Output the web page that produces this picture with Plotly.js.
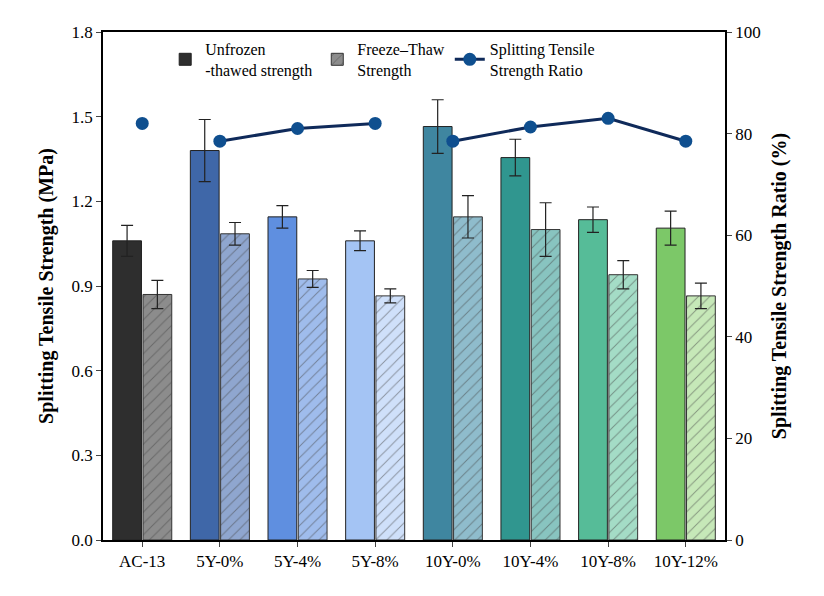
<!DOCTYPE html><html><head><script src="https://cdn.plot.ly/plotly-3.0.1.min.js"></script></head><body style="margin:0"><div id="c" style="width:824px;height:596px"></div><script>
const cats=['AC-13','5Y-0%','5Y-4%','5Y-8%','10Y-0%','10Y-4%','10Y-8%','10Y-12%'];
const unfrozen=[1.06,1.38,1.145,1.06,1.465,1.355,1.135,1.105];
const unfrozenErr=[0.055,0.11,0.04,0.035,0.095,0.065,0.045,0.06];
const freeze=[0.87,1.085,0.925,0.865,1.145,1.10,0.94,0.865];
const freezeErr=[0.05,0.04,0.03,0.025,0.075,0.095,0.05,0.045];
const ratio=[82,78.5,81,82,78.5,81.3,83,78.5];
const cDark=['#2e2e2e','#3f67a8','#5f8fe0','#a4c4f4','#3f86a0','#30968f','#56bc98','#7cc868'];
const cLight=['#8c8c8c','#8fa6cf','#9fbcec','#cfe0fa','#8fbccc','#88c4c0','#a4dcc6','#c6e8b8'];
const font={family:'Liberation Serif',color:'#000'};
const traces=[
{type:'bar',x:cats,y:unfrozen,name:'Unfrozen<br>-thawed strength',marker:{color:cDark,line:{color:'#222',width:1}},error_y:{type:'data',array:unfrozenErr,color:'#222',thickness:1.2,width:6}},
{type:'bar',x:cats,y:freeze,name:'Freeze–Thaw<br>Strength',marker:{color:cLight,line:{color:'#333',width:1},pattern:{shape:'/',fillmode:'overlay',fgcolor:'#333',size:8,solidity:0.12}},error_y:{type:'data',array:freezeErr,color:'#222',thickness:1.2,width:6}},
{type:'scatter',mode:'lines+markers',x:cats,y:[ratio[0],null,null,null,null,null,null,null],yaxis:'y2',showlegend:false,marker:{color:'#0f4f8f',size:13},line:{color:'#0f2a5a',width:3}},
{type:'scatter',mode:'lines+markers',x:cats,y:[null,ratio[1],ratio[2],ratio[3],null,null,null,null],yaxis:'y2',showlegend:false,marker:{color:'#0f4f8f',size:13},line:{color:'#0f2a5a',width:3}},
{type:'scatter',mode:'lines+markers',x:cats,y:[null,null,null,null,ratio[4],ratio[5],ratio[6],ratio[7]],yaxis:'y2',name:'Splitting Tensile<br>Strength Ratio',marker:{color:'#0f4f8f',size:13},line:{color:'#0f2a5a',width:3}}
];
Plotly.newPlot('c',traces,{width:824,height:596,margin:{l:103,r:99,t:32,b:56},font:Object.assign({size:16},font),
barmode:'group',bargap:0.22,bargroupgap:0.05,plot_bgcolor:'#fff',
xaxis:{showline:true,mirror:true,linecolor:'#000',linewidth:1.5,ticks:'outside',tickfont:{size:17}},
yaxis:{range:[0,1.8],dtick:0.3,tickformat:'.1f',showline:true,linecolor:'#000',linewidth:1.5,ticks:'outside',showgrid:false,zeroline:false,tickfont:{size:17},title:{text:'<b>Splitting Tensile Strength (MPa)</b>',font:{size:20}}},
yaxis2:{overlaying:'y',side:'right',range:[0,100],dtick:20,showline:true,linecolor:'#000',linewidth:1.5,ticks:'outside',showgrid:false,zeroline:false,tickfont:{size:17},title:{text:'<b>Splitting Tensile Strength Ratio (%)</b>',font:{size:20}}},
legend:{orientation:'h',x:0.1,y:1.0,xanchor:'left',yanchor:'top',bgcolor:'rgba(0,0,0,0)',font:{size:16},traceorder:'normal'}
},{displayModeBar:false});
</script></body></html>
